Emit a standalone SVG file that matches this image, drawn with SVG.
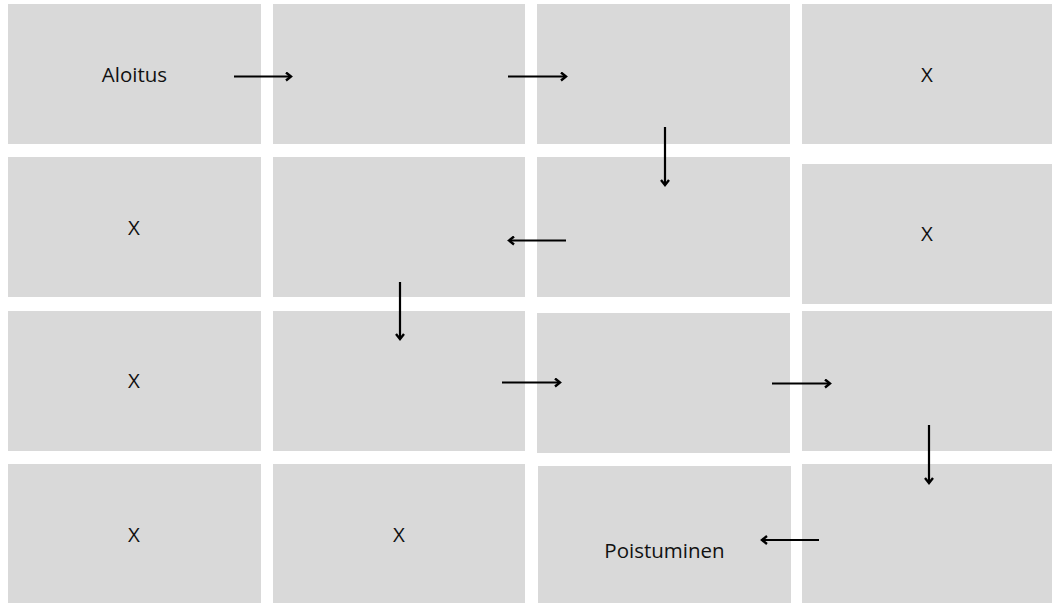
<svg xmlns="http://www.w3.org/2000/svg" width="1052" height="603" viewBox="0 0 1052 603">
<style>
.box{fill:#d9d9d9}
.lbl{font-family:"Open Sans","Liberation Sans",sans-serif;font-size:20.5px;fill:#111;text-anchor:middle}
.conn line{stroke:#000;stroke-width:2.2;marker-end:url(#ah)}
</style>
<defs>
<marker id="ah" markerWidth="10" markerHeight="10" refX="7" refY="5" orient="auto" markerUnits="userSpaceOnUse">
<polyline points="2,1 7,5 2,9" fill="none" stroke="#000" stroke-width="2.4"/>
</marker>
</defs>
<rect width="1052" height="603" fill="#fff"/>
<g id="n11"><rect class="box" x="8" y="4" width="253" height="140"/><text class="lbl" x="134.5" y="82">Aloitus</text></g>
<g id="n12"><rect class="box" x="273" y="4" width="252" height="140"/></g>
<g id="n13"><rect class="box" x="537" y="4" width="253" height="140"/></g>
<g id="n14"><rect class="box" x="802" y="4" width="250" height="140"/><text class="lbl" x="927" y="82">X</text></g>
<g id="n21"><rect class="box" x="8" y="157" width="253" height="140"/><text class="lbl" x="134" y="235">X</text></g>
<g id="n22"><rect class="box" x="273" y="157" width="252" height="140"/></g>
<g id="n23"><rect class="box" x="537" y="157" width="253" height="140"/></g>
<g id="n24"><rect class="box" x="802" y="164" width="250" height="140"/><text class="lbl" x="927" y="241">X</text></g>
<g id="n31"><rect class="box" x="8" y="311" width="253" height="140"/><text class="lbl" x="134" y="388">X</text></g>
<g id="n32"><rect class="box" x="273" y="311" width="252" height="140"/></g>
<g id="n33"><rect class="box" x="537" y="313" width="253" height="140"/></g>
<g id="n34"><rect class="box" x="802" y="311" width="250" height="140"/></g>
<g id="n41"><rect class="box" x="8" y="464" width="253" height="139"/><text class="lbl" x="134" y="542">X</text></g>
<g id="n42"><rect class="box" x="273" y="464" width="252" height="139"/><text class="lbl" x="399" y="542">X</text></g>
<g id="n43"><rect class="box" x="538" y="466" width="253" height="137"/><text class="lbl" x="664.5" y="558">Poistuminen</text></g>
<g id="n44"><rect class="box" x="802" y="464" width="250" height="139"/></g>
<g class="conn" id="connectors">
<line x1="234" y1="76.5" x2="291" y2="76.5"/>
<line x1="508" y1="76.5" x2="566" y2="76.5"/>
<line x1="665" y1="127" x2="665" y2="185"/>
<line x1="566" y1="240.5" x2="509" y2="240.5"/>
<line x1="400" y1="282" x2="400" y2="339"/>
<line x1="502" y1="382.5" x2="560" y2="382.5"/>
<line x1="772" y1="383.5" x2="830" y2="383.5"/>
<line x1="929" y1="425" x2="929" y2="483"/>
<line x1="819" y1="540" x2="762" y2="540"/>
</g>
</svg>
